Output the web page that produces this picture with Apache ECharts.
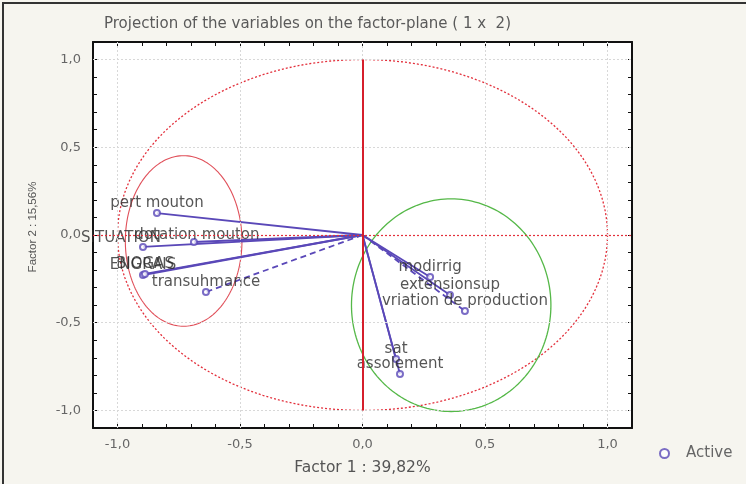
<!DOCTYPE html>
<html>
<head>
<meta charset="utf-8">
<script src="https://cdn.jsdelivr.net/npm/echarts@6/dist/echarts.min.js"></script>
<style>
html,body{margin:0;padding:0;background:#f6f5ef;}
#c{width:746px;height:484px;}
</style>
</head>
<body>
<div id="c"></div>
<script>
// ---- data ----
var varNames = ['pert mouton','SITUATION','dotation mouton','ENGRAIS','BIOGAS','transuhmance',
                'modirrig','extensionsup','vriation de production','sat','assolement'];
var factor1 = [-0.839,-0.896,-0.688,-0.896,-0.888,-0.639, 0.276, 0.357, 0.418, 0.137, 0.153];
var factor2 = [ 0.125,-0.068,-0.040,-0.228,-0.222,-0.325,-0.239,-0.342,-0.433,-0.707,-0.792];
var dashedVar = [0,0,0,0,0,1, 0,0,1, 0,0];
var tickValues = [-1.0,-0.5,0.0,0.5,1.0];
// ellipses drawn on the plane: [centre f1, centre f2, radius f1, radius f2]
var ellipseUnit  = [0, 0, 1, 1];
var ellipseLeft  = [-0.73, -0.034, 0.238, 0.486];
var ellipseRight = [0.362, -0.40, 0.407, 0.606];
var titleText = 'Projection of the variables on the factor-plane ( 1 x  2)';
var xName = 'Factor 1 : 39,82%';
var yName = 'Factor 2 : 15,56%';
var legendName = 'Active';

// ---- styles ----
var purple = '#5a48b8';
var labelOffsets = {
  'SITUATION':[-22,1],
  'dotation mouton':[3,3],
  'BIOGAS':[0,0]
};
var ellipseStyles = [
  {stroke:'#e3303c', lineWidth:1.3, lineDash:[2,2]},
  {stroke:'#e0505a', lineWidth:1.1, lineDash:null},
  {stroke:'#55b848', lineWidth:1.3, lineDash:null}
];

function fmt(v){
  var r = Math.round(v*10)/10;
  if (Math.abs(r) < 1e-9) r = 0;
  for (var i=0;i<tickValues.length;i++){
    if (Math.abs(tickValues[i]-r) < 1e-6) return r.toFixed(1).replace('.',',');
  }
  return '';
}

var chart = echarts.init(document.getElementById('c'), null, {renderer:'canvas'});

var axisCommon = {
  type:'value', min:-1.1, max:1.1, interval:0.1,
  axisLine:{show:true, onZero:false, lineStyle:{color:'#111', width:2}},
  axisTick:{show:true, inside:true, length:4, lineStyle:{color:'#111', width:1}},
  splitLine:{show:false}
};

var scatterData = varNames.map(function(n,i){
  var o = {name:n, value:[factor1[i], factor2[i]]};
  if (labelOffsets[n]) o.label = {offset:labelOffsets[n]};
  return o;
});

var arrowData = varNames.map(function(n,i){ return [factor1[i], factor2[i], dashedVar[i]]; });
var ellipseData = [ellipseUnit, ellipseLeft, ellipseRight];

var gridMarks = [];
tickValues.forEach(function(t){
  gridMarks.push({xAxis:t});
  gridMarks.push({yAxis:t});
});

var option = {
  backgroundColor:'#f6f5ef',
  animation:false,
  title:{
    text:titleText, left:99, top:12,
    textStyle:{fontFamily:'DejaVu Sans', fontSize:15, fontWeight:'normal', color:'#5a5a5a'}
  },
  legend:{
    data:[legendName], left:654, top:441, itemWidth:9, itemHeight:9, itemGap:10,
    textStyle:{fontFamily:'DejaVu Sans', fontSize:15, color:'#666', padding:[0,0,0,12]}
  },
  grid:{left:93, right:114, top:42, bottom:56, show:true, backgroundColor:'#ffffff', borderWidth:0},
  xAxis:[
    Object.assign({}, axisCommon, {
      position:'bottom', name:xName, nameLocation:'middle', nameGap:32,
      nameTextStyle:{fontFamily:'DejaVu Sans', fontSize:15.5, color:'#555'},
      axisLabel:{formatter:fmt, margin:10, fontFamily:'DejaVu Sans', fontSize:13, color:'#666'}
    }),
    Object.assign({}, axisCommon, {position:'top', axisLabel:{show:false}})
  ],
  yAxis:[
    Object.assign({}, axisCommon, {
      position:'left', name:yName, nameLocation:'middle', nameGap:54,
      nameTextStyle:{fontFamily:'Liberation Sans', fontSize:11.5, color:'#555', padding:[0,0,0,16]},
      axisLabel:{formatter:fmt, margin:12, fontFamily:'DejaVu Sans', fontSize:13, color:'#666'}
    }),
    Object.assign({}, axisCommon, {position:'right', axisLabel:{show:false}})
  ],
  graphic:[
    {type:'rect', shape:{x:3, y:3, width:800, height:560}, style:{fill:null, stroke:'#333', lineWidth:2}, z:100, silent:true}
  ],
  series:[
    {
      type:'custom', name:'grid', xAxisIndex:0, yAxisIndex:0, z:1, silent:true,
      data:[[0,0]],
      renderItem:function(){ return {type:'group', children:[]}; },
      markLine:{
        silent:true, symbol:'none', label:{show:false},
        lineStyle:{color:'#d8d8d8', type:[2,2], width:1},
        data:gridMarks
      }
    },
    {
      type:'custom', name:'ellipses', xAxisIndex:0, yAxisIndex:0, z:2, silent:true,
      data:ellipseData,
      renderItem:function(params, api){
        var c = api.coord([api.value(0), api.value(1)]);
        var s = api.size([api.value(2), api.value(3)]);
        var pts = [];
        for (var k=0;k<=180;k++){
          var a = k/180*Math.PI*2;
          pts.push([c[0]+s[0]*Math.cos(a), c[1]+s[1]*Math.sin(a)]);
        }
        var st = ellipseStyles[params.dataIndex];
        return {type:'polyline', shape:{points:pts},
                style:{stroke:st.stroke, lineWidth:st.lineWidth, lineDash:st.lineDash, fill:null}};
      },
      markLine:{
        silent:true, symbol:'none', label:{show:false},
        data:[
          {yAxis:0, lineStyle:{color:'#e3303c', type:[2,2], width:1.2}},
          [{coord:[0,-1], lineStyle:{color:'#d61f2c', type:'solid', width:2}}, {coord:[0,1]}]
        ]
      }
    },
    {
      type:'custom', name:'arrows', xAxisIndex:0, yAxisIndex:0, z:3, silent:true,
      data:arrowData,
      renderItem:function(params, api){
        var p0 = api.coord([0,0]);
        var p1 = api.coord([api.value(0), api.value(1)]);
        return {type:'line', shape:{x1:p0[0], y1:p0[1], x2:p1[0], y2:p1[1]},
                style:{stroke:purple, lineWidth:1.8, lineDash: api.value(2) ? [6,4] : null}};
      }
    },
    {
      type:'scatter', name:legendName, xAxisIndex:0, yAxisIndex:0, z:4,
      symbol:'emptyCircle', symbolSize:6,
      itemStyle:{color:purple, borderColor:purple, borderWidth:1.5},
      label:{show:true, position:'top', distance:-2, formatter:'{b}',
             fontFamily:'DejaVu Sans', fontSize:15, color:'#2a2a2a'},
      data:scatterData
    }
  ]
};
chart.setOption(option);
</script>
</body>
</html>
